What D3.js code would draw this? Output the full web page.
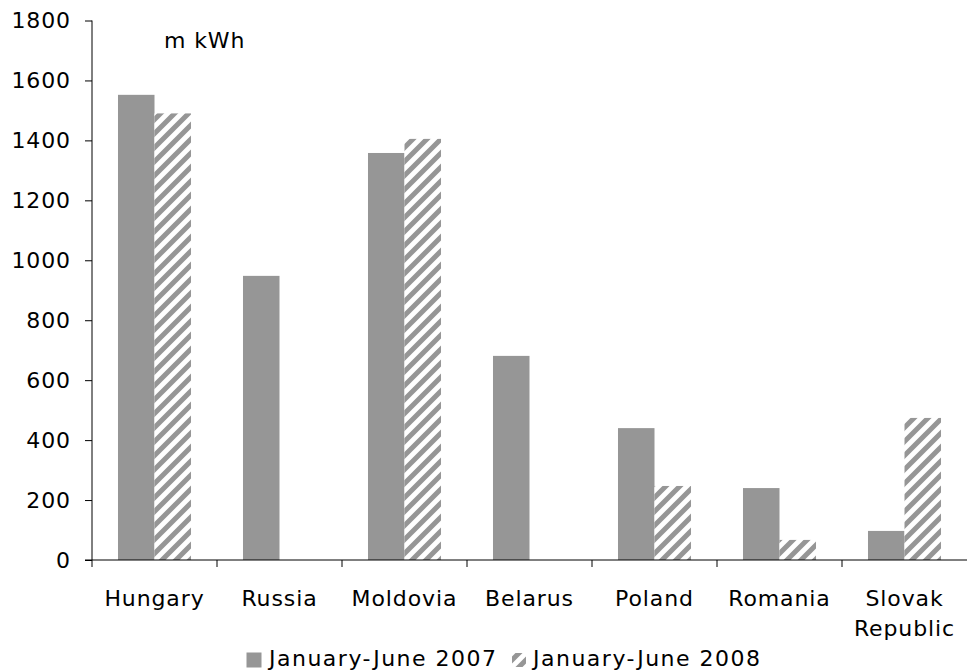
<!DOCTYPE html>
<html>
<head>
<meta charset="utf-8">
<script src="https://cdn.jsdelivr.net/npm/d3@7"></script>
<style>
  html, body { margin: 0; padding: 0; background: #fff; }
  svg { display: block; }
  text { font-family: "DejaVu Sans", Verdana, sans-serif; fill: #000; }
</style>
</head>
<body>
<svg id="chart" width="967" height="672"></svg>
<script>
// Electricity exports by destination, m kWh
const categories = ["Hungary", "Russia", "Moldovia", "Belarus", "Poland", "Romania", "Slovak Republic"];
const seriesNames = ["January-June 2007", "January-June 2008"];
const values2007 = [1552, 948, 1358, 681, 440, 240, 97];
const values2008 = [1490, 0, 1405, 0, 247, 67, 474];
const yTicks = [0, 200, 400, 600, 800, 1000, 1200, 1400, 1600, 1800];
const unitLabel = "m kWh";

const svg = d3.select("#chart");
const gray = "#969696";
const fontSize = 22;
const spacing = 0.9;
const fontFamily = '"DejaVu Sans", Verdana, sans-serif';

const plot = { left: 92, right: 967, top: 20.5, bottom: 560 };

// Diagonal hatch used for the 2008 series
const defs = svg.append("defs");
const P = 14;
const pat = defs.append("pattern")
  .attr("id", "hatch")
  .attr("patternUnits", "userSpaceOnUse")
  .attr("width", P).attr("height", P);
pat.append("rect").attr("width", P).attr("height", P).attr("fill", "#fff");
pat.append("path")
  .attr("d", `M-4,4 L4,-4 M0,${P} L${P},0 M${P - 4},${P + 4} L${P + 4},${P - 4}`)
  .attr("stroke", gray).attr("stroke-width", 5);

const x0 = d3.scaleBand().domain(categories).range([plot.left, plot.right]).padding(0);
const x1 = d3.scaleBand().domain(seriesNames).range([0, x0.bandwidth()])
  .paddingInner(0).paddingOuter(0.712);
const y = d3.scaleLinear().domain([0, 1800]).range([plot.bottom, plot.top]);

const fills = [gray, "url(#hatch)"];
const data = categories.map((c, i) => ({ cat: c, vals: [values2007[i], values2008[i]] }));

// Bars
const groups = svg.append("g").selectAll("g").data(data).join("g")
  .attr("transform", d => `translate(${x0(d.cat)},0)`);
groups.selectAll("rect")
  .data(d => d.vals.map((v, k) => ({ s: seriesNames[k], v, k })))
  .join("rect")
  .attr("x", d => x1(d.s))
  .attr("width", x1.bandwidth())
  .attr("y", d => y(d.v))
  .attr("height", d => y(0) - y(d.v))
  .attr("fill", d => fills[d.k]);

// Y axis
const yAxis = d3.axisLeft(y).tickValues(yTicks).tickSize(7).tickPadding(14).tickFormat(d3.format("d"));
const gy = svg.append("g").attr("transform", `translate(${plot.left},0)`).call(yAxis)
  .attr("font-size", fontSize).attr("font-family", fontFamily);
gy.select(".domain").remove();
gy.append("line").attr("x1", 0).attr("x2", 0).attr("y1", plot.top).attr("y2", plot.bottom + 7).attr("stroke", "#000");
gy.selectAll(".tick line").attr("stroke", "#000");
gy.selectAll(".tick text")
  .style("font-size", fontSize + "px").style("letter-spacing", spacing + "px")
  .style("font-family", fontFamily).attr("fill", "#000");

// X axis: baseline, boundary ticks between categories, centred labels
const gx = svg.append("g");
gx.append("line").attr("x1", plot.left - 7).attr("x2", plot.right).attr("y1", plot.bottom).attr("y2", plot.bottom).attr("stroke", "#000");
const bounds = categories.map(c => x0(c)).concat([plot.right]);
gx.selectAll("line.b").data(bounds.slice(1, -1)).join("line").attr("class", "b")
  .attr("x1", d => d).attr("x2", d => d).attr("y1", plot.bottom).attr("y2", plot.bottom + 7).attr("stroke", "#000");
const labels = gx.selectAll("text.cat").data(categories).join("text").attr("class", "cat")
  .attr("x", d => x0(d) + x0.bandwidth() / 2)
  .attr("y", 606)
  .attr("text-anchor", "middle")
  .style("font-size", fontSize + "px").style("letter-spacing", spacing + "px");
labels.each(function(d) {
  const words = d.split(" ");
  const t = d3.select(this);
  words.forEach((w, i) => t.append("tspan").attr("x", x0(d) + x0.bandwidth() / 2).attr("dy", i ? 30 : 0).text(w));
});

// Unit label
svg.append("text").attr("x", 164).attr("y", 48)
  .style("font-size", fontSize + "px").style("letter-spacing", spacing + "px").text(unitLabel);

// Legend
const lg = svg.append("g").attr("transform", "translate(246,660)");
lg.append("rect").attr("x", 0.5).attr("y", -7.5).attr("width", 15).attr("height", 15).attr("fill", gray);
lg.append("text").attr("x", 23).attr("y", 6)
  .style("font-size", fontSize + "px").style("letter-spacing", "1.5px").text(seriesNames[0]);
lg.append("rect").attr("x", 266).attr("y", -7).attr("width", 14).attr("height", 14).attr("fill", "url(#hatch)");
lg.append("text").attr("x", 287).attr("y", 6)
  .style("font-size", fontSize + "px").style("letter-spacing", "1.5px").text(seriesNames[1]);
</script>
</body>
</html>
